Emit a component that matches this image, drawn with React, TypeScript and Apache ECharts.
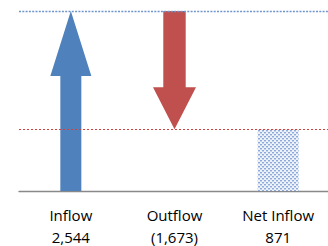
import React, { useEffect, useRef } from "react";
import * as echarts from "echarts";

const categories = ["Inflow", "Outflow", "Net Inflow"];
const flowValues = [2544, -1673];
const netValue = 871;
const yMax = 2544;

const arrowStyles = [
  { color: "#4f81bd", head: 65, headHalf: 20.5, shaftHalf: 10.5 },
  { color: "#c0504d", head: 42, headHalf: 21.5, shaftHalf: 11.2 },
];

const fmt = (v: number) => {
  const s = Math.abs(v).toLocaleString("en-US");
  return v < 0 ? `(${s})` : s;
};

function makeDotPattern() {
  const c = document.createElement("canvas");
  c.width = 4;
  c.height = 4;
  const g = c.getContext("2d")!;
  g.fillStyle = "#eef3fa";
  g.fillRect(0, 0, 4, 4);
  g.fillStyle = "#8eaadb";
  g.fillRect(0, 0, 2, 1);
  g.fillRect(2, 2, 2, 1);
  g.fillStyle = "#c3d3ee";
  g.fillRect(0, 1, 2, 1);
  g.fillRect(2, 3, 2, 1);
  return c;
}

export default function App() {
  const ref = useRef<HTMLDivElement>(null);
  useEffect(() => {
    if (!ref.current) return;
    const chart = echarts.init(ref.current, null, { renderer: "svg" });
    let cum = 0;
    const arrowData = flowValues.map((v, i) => {
      const start = cum;
      cum += v;
      return [i, start, cum];
    });
    const allValues = [...flowValues, netValue];
    chart.setOption({
      animation: false,
      grid: { left: 19, right: -2, top: 11, bottom: 55, containLabel: false, outerBoundsMode: "none" },
      xAxis: {
        type: "category",
        data: categories,
        axisLine: { lineStyle: { color: "#898989", width: 1.3 } },
        axisTick: { show: false },
        axisLabel: {
          margin: 13,
          fontFamily: "Open Sans",
          fontSize: 15,
          lineHeight: 22,
          color: "#000",
          formatter: (val: string, idx: number) => `${val}\n${fmt(allValues[idx])}`,
        },
      },
      yAxis: {
        type: "value",
        min: 0,
        max: yMax,
        show: false,
        splitLine: { show: false },
      },
      series: [
        {
          type: "bar",
          data: ["-", "-", netValue],
          barWidth: 41,
          itemStyle: {
            color: { image: makeDotPattern(), repeat: "repeat" },
          },
          markLine: {
            silent: true,
            symbol: "none",
            label: { show: false },
            data: [
              { yAxis: yMax, lineStyle: { color: "#6f95cc", type: [2, 1.3], width: 1.3 } },
              { yAxis: netValue, lineStyle: { color: "#d0403c", type: [2, 2], width: 1.2, cap: "butt" } },
            ],
          },
        },
        {
          type: "custom",
          data: arrowData,
          renderItem: (params: any, api: any) => {
            const idx = api.value(0);
            const st = arrowStyles[params.dataIndex];
            const p0 = api.coord([idx, api.value(1)]);
            const p1 = api.coord([idx, api.value(2)]);
            const x = p0[0];
            const y0 = p0[1];
            const y1 = p1[1];
            const dir = y1 < y0 ? -1 : 1;
            const yb = y1 - dir * st.head;
            return {
              type: "polygon",
              shape: {
                points: [
                  [x - st.shaftHalf, y0],
                  [x - st.shaftHalf, yb],
                  [x - st.headHalf, yb],
                  [x, y1],
                  [x + st.headHalf, yb],
                  [x + st.shaftHalf, yb],
                  [x + st.shaftHalf, y0],
                ],
              },
              style: { fill: st.color },
            };
          },
        },
      ],
    });
    return () => chart.dispose();
  }, []);
  return <div ref={ref} style={{ width: 328, height: 246, position: "absolute", left: 0, top: 0 }} />;
}
